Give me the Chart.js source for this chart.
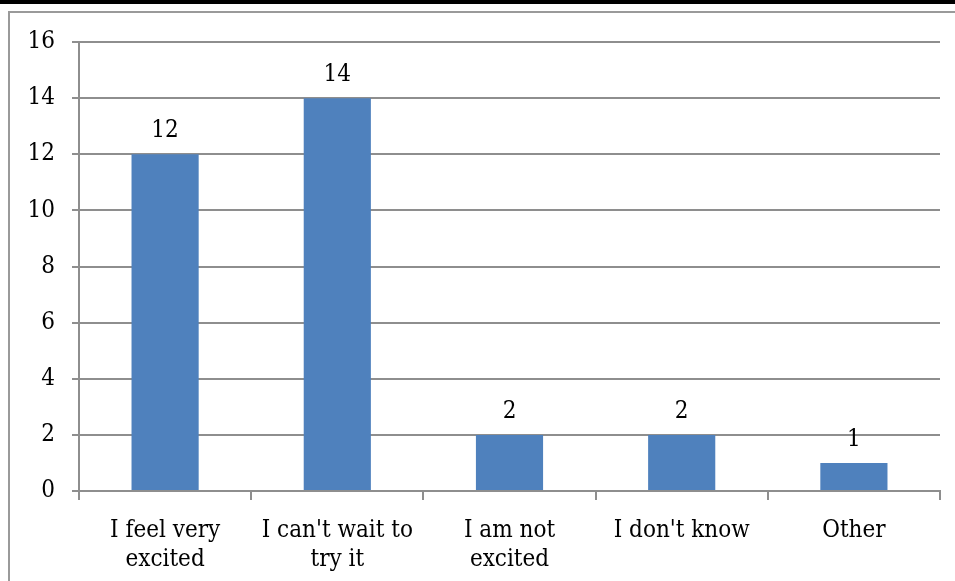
<!DOCTYPE html>
<html>
<head>
<meta charset="utf-8">
<style>
  html, body { margin: 0; padding: 0; background: #fff; }
  #wrap { width: 955px; height: 581px; position: relative; overflow: hidden; }
</style>
<script src="https://cdn.jsdelivr.net/npm/chart.js@4/dist/chart.umd.min.js"></script>
</head>
<body>
<div id="wrap"><canvas id="chart" width="955" height="581"></canvas></div>
<script>
// Survey responses: how people feel about trying it
const categories = [
  ["I feel very", "excited"],
  ["I can't wait to", "try it"],
  ["I am not", "excited"],
  ["I don't know"],
  ["Other"]
];
const counts = [12, 14, 2, 2, 1];
const yTicks = { min: 0, max: 16, step: 2 };

const FONT = "'DejaVu Serif Condensed', 'Liberation Serif', serif";
const FONT_SIZE = 24;
const GRID = "#8e8e8e";
const BAR = "#4f81bd";

// Page frame: black rule along the top and a grey box edge
const framePlugin = {
  id: "frame",
  beforeDraw(chart) {
    const ctx = chart.ctx;
    ctx.save();
    ctx.fillStyle = "#fff";
    ctx.fillRect(0, 0, chart.width, chart.height);
    ctx.fillStyle = "#000";
    ctx.fillRect(0, 0, chart.width, 4);
    ctx.strokeStyle = "#9a9a9a";
    ctx.lineWidth = 2;
    ctx.beginPath();
    ctx.moveTo(9, chart.height);
    ctx.lineTo(9, 12);
    ctx.lineTo(chart.width, 12);
    ctx.stroke();
    ctx.restore();
  }
};

// Value printed above each bar
const valueLabels = {
  id: "valueLabels",
  afterDatasetsDraw(chart) {
    const ctx = chart.ctx;
    const meta = chart.getDatasetMeta(0);
    ctx.save();
    ctx.font = FONT_SIZE + "px " + FONT;
    ctx.fillStyle = "#000";
    ctx.textAlign = "center";
    ctx.textBaseline = "alphabetic";
    meta.data.forEach((bar, i) => {
      ctx.fillText(String(chart.data.datasets[0].data[i]), bar.x, bar.y - 17);
    });
    ctx.restore();
  }
};

new Chart(document.getElementById("chart"), {
  type: "bar",
  data: {
    labels: categories,
    datasets: [{
      data: counts,
      backgroundColor: BAR,
      borderWidth: 0,
      barPercentage: 0.39,
      categoryPercentage: 1
    }]
  },
  options: {
    responsive: false,
    animation: false,
    devicePixelRatio: 1,
    layout: { padding: { left: 0, top: 42, right: 15, bottom: 0 } },
    plugins: { legend: { display: false }, tooltip: { enabled: false } },
    scales: {
      x: {
        grid: {
          drawOnChartArea: false,
          drawTicks: true,
          offset: true,
          tickLength: 9,
          color: GRID,
          lineWidth: 2
        },
        border: { display: true, color: GRID, width: 2 },
        ticks: {
          font: { family: FONT, size: FONT_SIZE, lineHeight: 1.22 },
          color: "#000",
          maxRotation: 0,
          autoSkip: false,
          padding: 16
        },
        afterFit(scale) {
          scale.height = 90;
          scale.paddingLeft = 0;
          scale.paddingRight = 0;
        }
      },
      y: {
        min: yTicks.min,
        max: yTicks.max,
        grid: {
          color: GRID,
          lineWidth: 2,
          drawTicks: true,
          tickLength: 7
        },
        border: { display: true, color: GRID, width: 2 },
        ticks: {
          stepSize: yTicks.step,
          font: { family: FONT, size: FONT_SIZE },
          color: "#000",
          padding: 17
        },
        afterFit(scale) {
          scale.width = 79;
          scale.paddingTop = 0;
          scale.paddingBottom = 0;
        }
      }
    }
  },
  plugins: [framePlugin, valueLabels]
});
</script>
</body>
</html>
